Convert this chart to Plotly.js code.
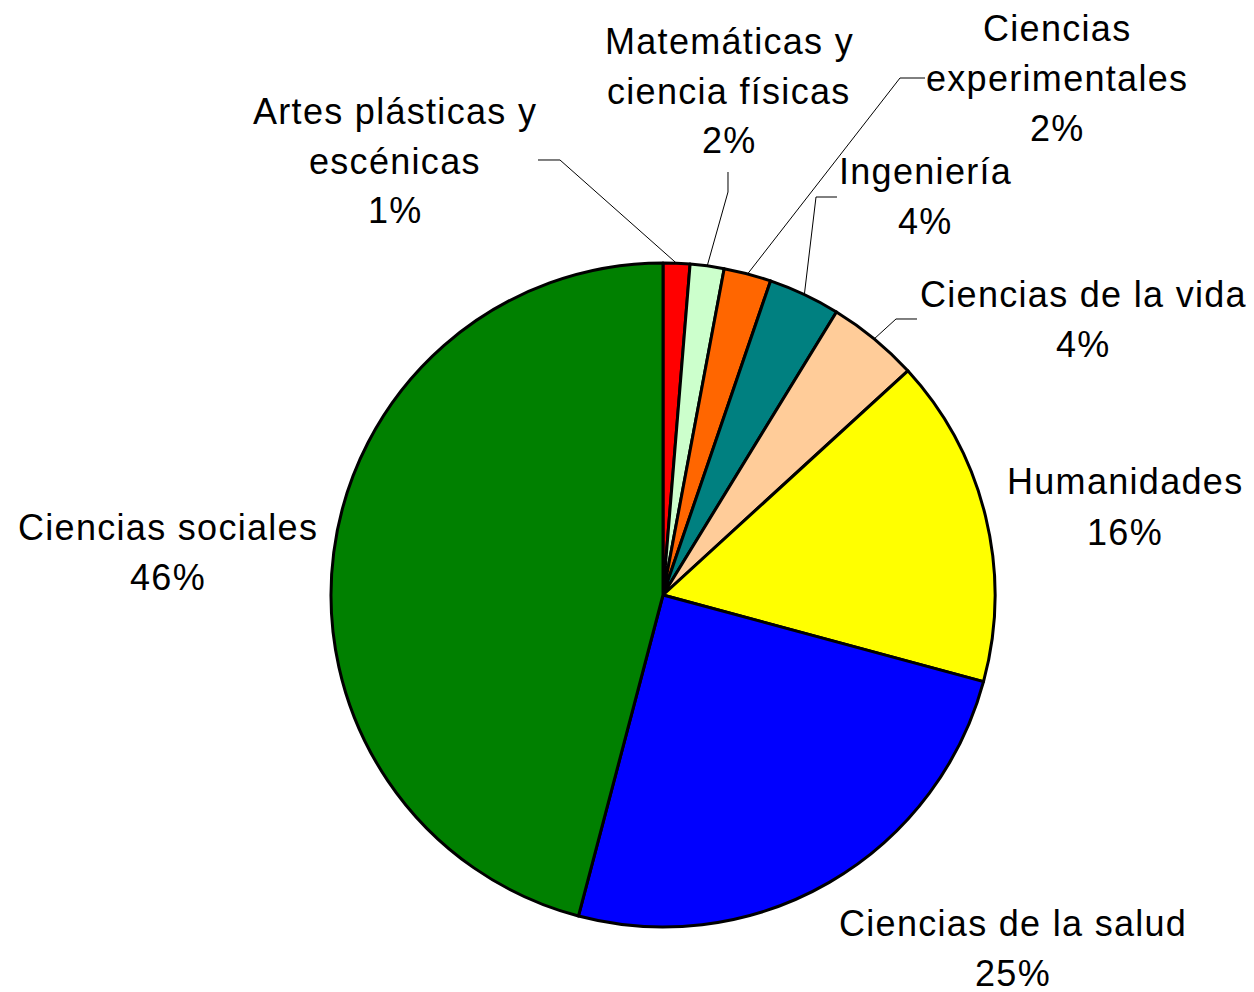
<!DOCTYPE html>
<html>
<head>
<meta charset="utf-8">
<script src="https://cdn.plot.ly/plotly-3.0.1.min.js"></script>
<style>
html,body{margin:0;padding:0;background:#fff;}
#chart{width:1254px;height:992px;}
.annotation-text{letter-spacing:1.3px;}
</style>
</head>
<body>
<div id="chart"></div>
<script>
// ---- data ----
const labelLines = [
  ['Artes plásticas y', 'escénicas'],
  ['Matemáticas y', 'ciencia físicas'],
  ['Ciencias', 'experimentales'],
  ['Ingeniería'],
  ['Ciencias de la vida'],
  ['Humanidades'],
  ['Ciencias de la salud'],
  ['Ciencias sociales']
];
const categories = labelLines.map(l => l.join(' '));
const values = [1.3, 1.65, 2.3, 3.5, 4.45, 16.0, 24.9, 45.9];
const colors = ['#FF0000', '#CCFFCC', '#FF6600', '#008080', '#FFCC99', '#FFFF00', '#0000FF', '#008000'];

// ---- layout constants (pixels) ----
const W = 1254, H = 992;
const CX = 663, CY = 595, R = 332;
const LINE_GAP = 50;
const FONT = {family: 'Liberation Sans, Arial, sans-serif', size: 36, color: '#000'};
const labelPos = [[395,111],[729,41],[1057,29],[925,172],[1083,294],[1125,482],[1013,923],[168,527]];
const leaderElbows = [
  [[560,160],[538,160]],
  [[728,192],[728,172]],
  [[900,78],[925,78]],
  [[816,197],[837,197]],
  [[896,319],[917,319]]
];

const px = x => x / W, py = y => 1 - y / H;
const total = values.reduce((a, b) => a + b, 0);

// mid-angles of slices (clockwise from 12 o'clock)
let cum = 0;
const mids = values.map(v => { const m = cum + v / 2; cum += v; return m / total * 2 * Math.PI; });

const annotations = [];
labelLines.forEach((lines, i) => {
  const pct = Math.round(values[i] / total * 100) + '%';
  const all = lines.concat([pct]);
  all.forEach((t, j) => {
    annotations.push({
      x: px(labelPos[i][0]), y: py(labelPos[i][1] + j * LINE_GAP),
      xref: 'paper', yref: 'paper', text: t, showarrow: false,
      xanchor: 'center', yanchor: 'middle', font: FONT
    });
  });
});

const shapes = leaderElbows.map((pts, i) => {
  const a = mids[i];
  const sx = CX + R * Math.sin(a), sy = CY - R * Math.cos(a);
  const all = [[sx, sy]].concat(pts);
  const path = all.map((p, k) => (k ? 'L' : 'M') + px(p[0]).toFixed(5) + ',' + py(p[1]).toFixed(5)).join(' ');
  return {type: 'path', xref: 'paper', yref: 'paper', path: path, line: {color: '#000', width: 1}};
});

const trace = {
  type: 'pie',
  labels: categories,
  values: values,
  sort: false,
  direction: 'clockwise',
  rotation: 0,
  textinfo: 'none',
  textposition: 'none',
  hoverinfo: 'none',
  marker: {colors: colors, line: {color: '#000', width: 3}},
  domain: {x: [(CX - R) / W, (CX + R) / W], y: [1 - (CY + R) / H, 1 - (CY - R) / H]}
};

const layout = {
  width: W, height: H,
  margin: {l: 0, r: 0, t: 0, b: 0},
  showlegend: false,
  paper_bgcolor: '#fff',
  annotations: annotations,
  shapes: shapes
};

Plotly.newPlot('chart', [trace], layout, {displayModeBar: false, staticPlot: true});
</script>
</body>
</html>
